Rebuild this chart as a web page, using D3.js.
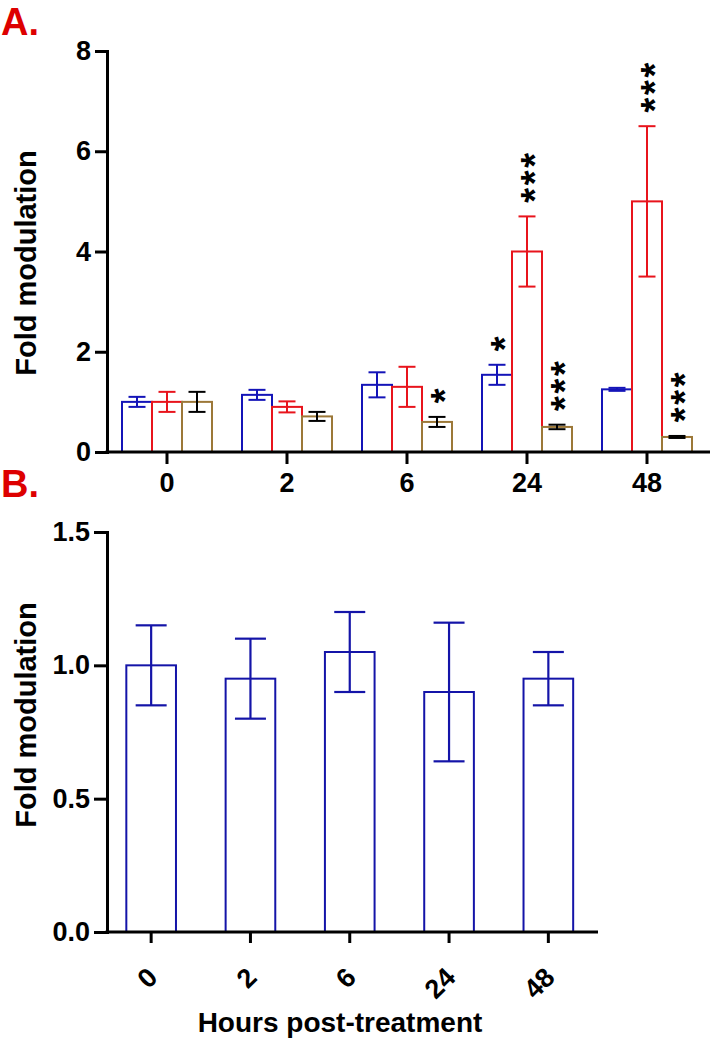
<!DOCTYPE html>
<html>
<head>
<meta charset="utf-8">
<script src="https://cdn.jsdelivr.net/npm/d3@7/dist/d3.min.js"></script>
<style>
  html, body { margin: 0; padding: 0; background: #fff; }
  svg { display: block; }
  text { font-family: "Liberation Sans", Arial, sans-serif; font-weight: bold; }
</style>
</head>
<body>
<div id="chart"></div>
<script>
// ---------- data ----------
const categories = ["0", "2", "6", "24", "48"];

// Panel A: three series (blue, red, brown)
const seriesNamesA = ["blue", "red", "brown"];
const valuesA_blue  = [1.00, 1.14, 1.34, 1.54, 1.25];
const errA_blue     = [0.10, 0.10, 0.25, 0.20, 0.03];
const valuesA_red   = [1.00, 0.90, 1.30, 4.00, 5.00];
const errA_red      = [0.20, 0.11, 0.40, 0.70, 1.50];
const valuesA_brown = [1.00, 0.71, 0.60, 0.50, 0.30];
const errA_brown    = [0.20, 0.09, 0.10, 0.045, 0.02];
const starsA_blue   = [0, 0, 0, 1, 0];
const starsA_red    = [0, 0, 0, 3, 3];
const starsA_brown  = [0, 0, 1, 3, 3];
const ticksA = [0, 2, 4, 6, 8];

// Panel B: single series
const valuesB = [1.00, 0.95, 1.05, 0.90, 0.95];
const errB    = [0.15, 0.15, 0.15, 0.26, 0.10];
const ticksB  = [0, 0.5, 1.0, 1.5];

// ---------- styles ----------
const colA = { blue: "#1414B8", red: "#E8141C", brown: "#9C7838" };
const errColA = { blue: "#1414B8", red: "#E8141C", brown: "#000000" };
const colB = "#1414A8";

const svg = d3.select("#chart").append("svg")
  .attr("width", 712).attr("height", 1041);
svg.append("rect").attr("width", 712).attr("height", 1041).attr("fill", "#fff");

// ---------- Panel A ----------
const A = { left: 107, right: 707, axisEnd: 710, top: 51, bottom: 452 };
const xA = d3.scaleBand().domain(categories).range([A.left, A.right]).padding(0);
const groupW = xA.bandwidth() * 0.75;
const xSubA = d3.scaleBand().domain(seriesNamesA).range([0, groupW]).padding(0);
const yA = d3.scaleLinear().domain([0, 8]).range([A.bottom, A.top]);

const dataA = {
  blue:  { v: valuesA_blue,  e: errA_blue,  s: starsA_blue },
  red:   { v: valuesA_red,   e: errA_red,   s: starsA_red },
  brown: { v: valuesA_brown, e: errA_brown, s: starsA_brown }
};

const gA = svg.append("g");
const capA = 17;
const starSize = 38;
const starStep = 17.5;

// stars stacked vertically as one rotated text
function drawStars(g, cx, errTop, n) {
  if (!n) return;
  const cyBottom = errTop - 21;
  const ls = starStep - 0.389 * starSize;
  g.append("text")
    .attr("transform", `translate(${cx + 0.56 * starSize},${cyBottom + 0.195 * starSize}) rotate(-90)`)
    .attr("font-size", starSize)
    .attr("letter-spacing", ls)
    .attr("fill", "#000")
    .text("*".repeat(n));
}

seriesNamesA.forEach(name => {
  const d = dataA[name];
  categories.forEach((c, i) => {
    const x0 = xA(c) + (xA.bandwidth() - groupW) / 2 + xSubA(name);
    const w = xSubA.bandwidth();
    const v = d.v[i];
    gA.append("rect")
      .attr("x", x0).attr("y", yA(v))
      .attr("width", w).attr("height", yA(0) - yA(v))
      .attr("fill", "none")
      .attr("stroke", colA[name]).attr("stroke-width", 2);
  });
});
seriesNamesA.forEach(name => {
  const d = dataA[name];
  categories.forEach((c, i) => {
    const x0 = xA(c) + (xA.bandwidth() - groupW) / 2 + xSubA(name);
    const cx = x0 + xSubA.bandwidth() / 2;
    const v = d.v[i], e = d.e[i];
    const yt = yA(v + e), yb = yA(v - e);
    const eg = gA.append("g").attr("stroke", errColA[name]).attr("stroke-width", 2);
    eg.append("line").attr("x1", cx).attr("x2", cx).attr("y1", yt).attr("y2", yb);
    eg.append("line").attr("x1", cx - capA / 2).attr("x2", cx + capA / 2).attr("y1", yt).attr("y2", yt);
    eg.append("line").attr("x1", cx - capA / 2).attr("x2", cx + capA / 2).attr("y1", yb).attr("y2", yb);
    drawStars(gA, cx, yt, d.s[i]);
  });
});

// axes A
const yAxisA = d3.axisLeft(yA).tickValues(ticksA).tickSize(12).tickSizeOuter(0).tickPadding(4)
  .tickFormat(d3.format("d"));
const gyA = svg.append("g").attr("transform", `translate(${A.left},0)`).call(yAxisA);
const xAxisA = d3.axisBottom(xA).tickSize(12).tickSizeOuter(0).tickPadding(9);
const gxA = svg.append("g").attr("transform", `translate(0,${A.bottom})`).call(xAxisA);
gxA.select(".domain").remove();
gxA.append("line").attr("x1", A.left - 1.5).attr("x2", A.axisEnd).attr("y1", 0).attr("y2", 0)
  .attr("stroke", "#000").attr("stroke-width", 3);

[gyA, gxA].forEach(g => {
  g.selectAll(".domain").attr("stroke", "#000").attr("stroke-width", 3).attr("stroke-linecap", "square");
  g.selectAll(".tick line").attr("stroke", "#000").attr("stroke-width", 3);
  g.selectAll(".tick text").attr("fill", "#000").attr("font-size", 27)
    .attr("font-family", "Liberation Sans, Arial, sans-serif").attr("font-weight", "bold");
});

svg.append("text").attr("transform", `translate(36,263) rotate(-90)`)
  .attr("text-anchor", "middle").attr("font-size", 29).attr("fill", "#000")
  .text("Fold modulation");
svg.append("text").attr("x", 1).attr("y", 35).attr("font-size", 38).attr("fill", "#DD0000")
  .text("A.");

// ---------- Panel B ----------
const B = { left: 107, xStart: 101.5, right: 598, top: 532, bottom: 932 };
const xB = d3.scaleBand().domain(categories).range([B.xStart, B.right]).padding(0);
const barWB = xB.bandwidth() * 0.5;
const yB = d3.scaleLinear().domain([0, 1.5]).range([B.bottom, B.top]);
const capB = 31;
const gB = svg.append("g");

categories.forEach((c, i) => {
  const cx = xB(c) + xB.bandwidth() / 2;
  const v = valuesB[i];
  gB.append("rect")
    .attr("x", cx - barWB / 2).attr("y", yB(v))
    .attr("width", barWB).attr("height", yB(0) - yB(v))
    .attr("fill", "none").attr("stroke", colB).attr("stroke-width", 2);
});
categories.forEach((c, i) => {
  const cx = xB(c) + xB.bandwidth() / 2;
  const v = valuesB[i], e = errB[i];
  const yt = yB(v + e), yb = yB(v - e);
  const eg = gB.append("g").attr("stroke", colB).attr("stroke-width", 2.2);
  eg.append("line").attr("x1", cx).attr("x2", cx).attr("y1", yt).attr("y2", yb);
  eg.append("line").attr("x1", cx - capB / 2).attr("x2", cx + capB / 2).attr("y1", yt).attr("y2", yt);
  eg.append("line").attr("x1", cx - capB / 2).attr("x2", cx + capB / 2).attr("y1", yb).attr("y2", yb);
});

const yAxisB = d3.axisLeft(yB).tickValues(ticksB).tickSize(13).tickSizeOuter(0).tickPadding(4)
  .tickFormat(d3.format(".1f"));
const gyB = svg.append("g").attr("transform", `translate(${B.left},0)`).call(yAxisB);
const xAxisB = d3.axisBottom(xB).tickSize(11).tickSizeOuter(0).tickFormat("");
const gxB = svg.append("g").attr("transform", `translate(0,${B.bottom})`).call(xAxisB);
gxB.select(".domain").remove();
gxB.append("line").attr("x1", B.left - 1.5).attr("x2", B.right).attr("y1", 0).attr("y2", 0)
  .attr("stroke", "#000").attr("stroke-width", 3);
gxB.selectAll(".tick").append("text")
  .attr("transform", "translate(8,47) rotate(-45)")
  .attr("text-anchor", "end")
  .text(d => d);

[gyB, gxB].forEach(g => {
  g.selectAll(".domain").attr("stroke", "#000").attr("stroke-width", 3).attr("stroke-linecap", "square");
  g.selectAll(".tick line").attr("stroke", "#000").attr("stroke-width", 3);
  g.selectAll(".tick text").attr("fill", "#000").attr("font-size", 27)
    .attr("font-family", "Liberation Sans, Arial, sans-serif").attr("font-weight", "bold");
});

svg.append("text").attr("transform", `translate(36,715) rotate(-90)`)
  .attr("text-anchor", "middle").attr("font-size", 29).attr("fill", "#000")
  .text("Fold modulation");
svg.append("text").attr("x", 340).attr("y", 1032).attr("text-anchor", "middle")
  .attr("font-size", 28).attr("fill", "#000")
  .text("Hours post-treatment");
svg.append("text").attr("x", 1).attr("y", 497).attr("font-size", 38).attr("fill", "#DD0000")
  .text("B.");
</script>
</body>
</html>
